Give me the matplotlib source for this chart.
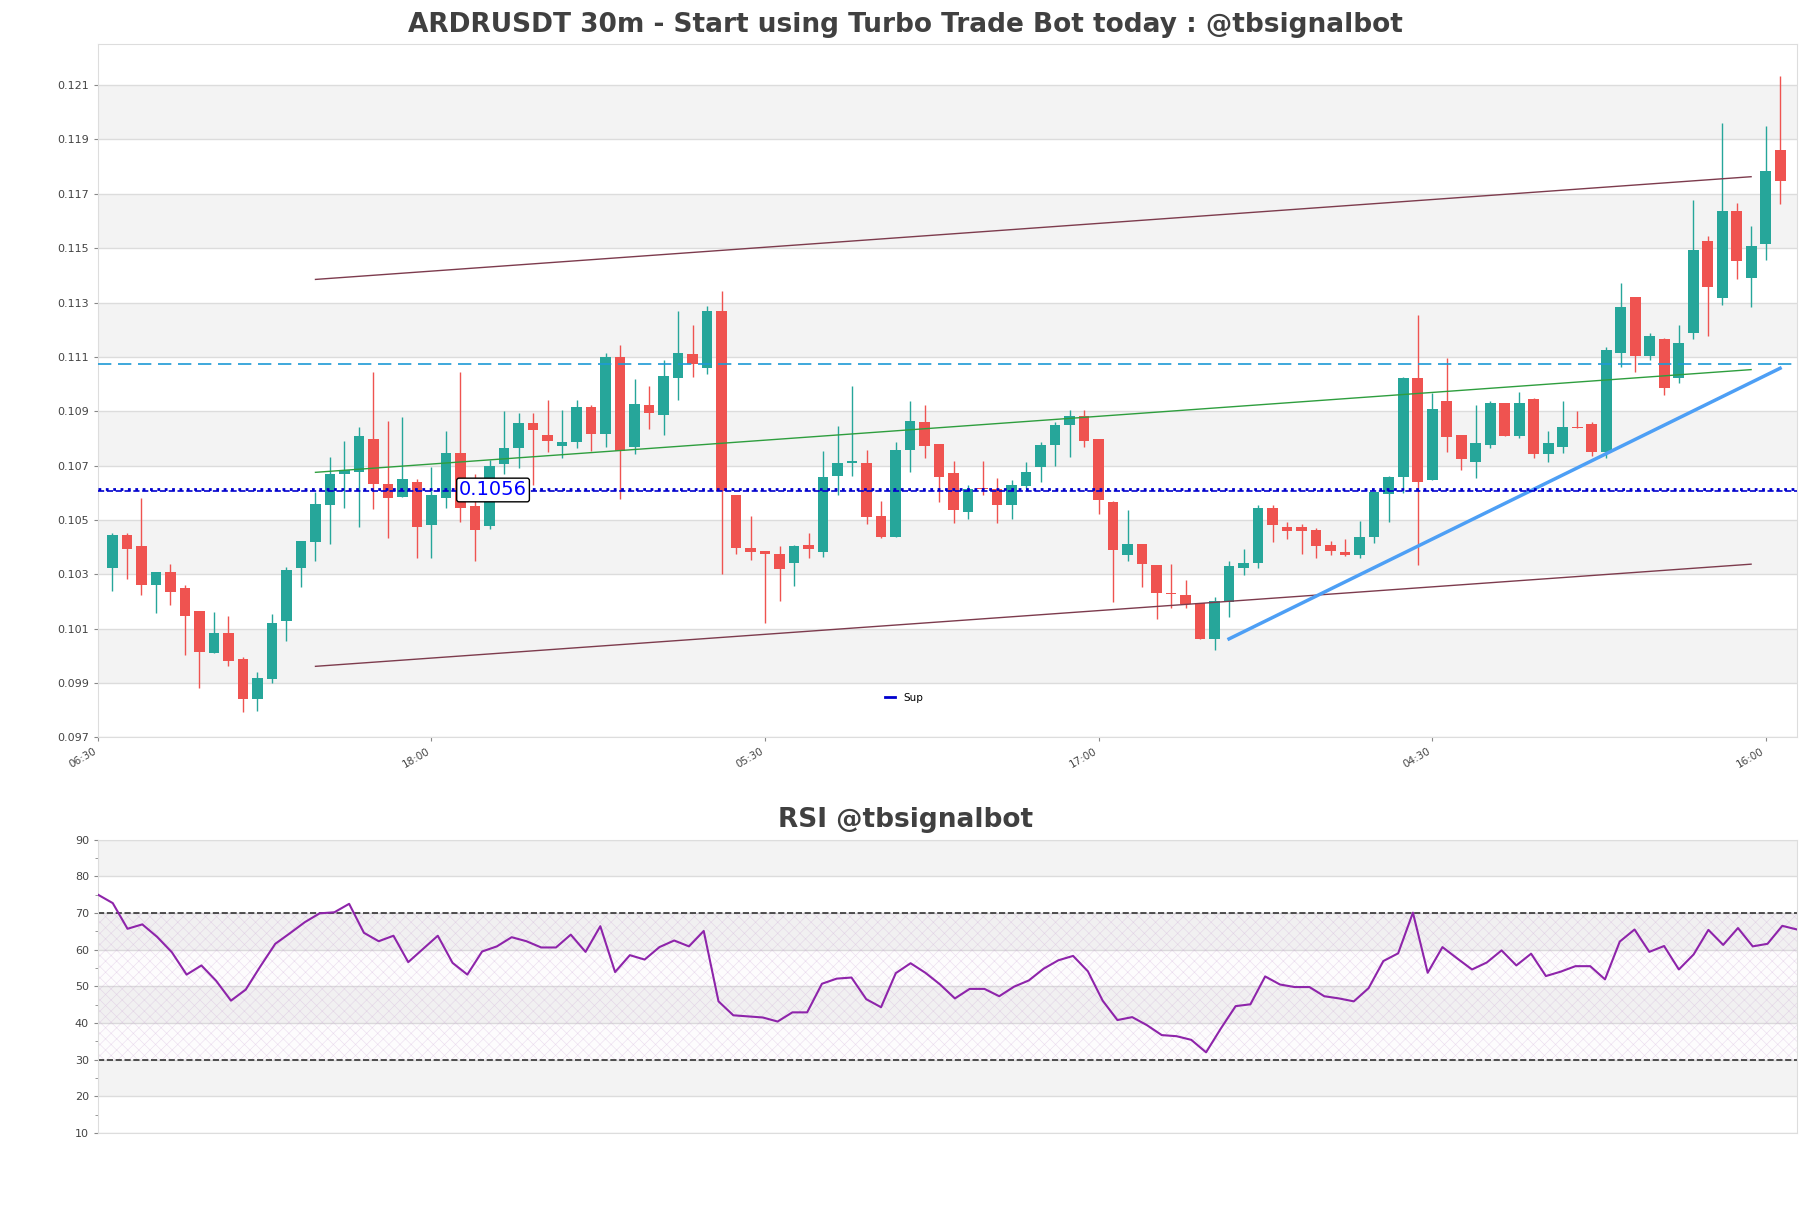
import matplotlib.pyplot as plt
import numpy as np
from matplotlib.lines import Line2D

plt.rcParams["hatch.linewidth"] = 0.4

# ---------------------------------------------------------------------------
# data (30m candles, price in USDT)
# ---------------------------------------------------------------------------
time_labels = ["06:30", "18:00", "05:30", "17:00", "04:30", "16:00"]
time_ticks = [-1, 22, 45, 68, 91, 114]

opens = [0.10322, 0.10445, 0.10404, 0.10262, 0.10307, 0.10250, 0.10165, 0.10009, 0.10083, 0.09988,
         0.09840, 0.09913, 0.10129, 0.10322, 0.10420, 0.10556, 0.10668, 0.10678, 0.10798, 0.10633,
         0.10586, 0.10639, 0.10482, 0.10582, 0.10745, 0.10552, 0.10478, 0.10705, 0.10765, 0.10857,
         0.10814, 0.10771, 0.10786, 0.10917, 0.10815, 0.11100, 0.10767, 0.10923, 0.10885, 0.11021,
         0.11112, 0.11058, 0.11267, 0.10593, 0.10398, 0.10386, 0.10376, 0.10340, 0.10408, 0.10383,
         0.10661, 0.10709, 0.10711, 0.10516, 0.10436, 0.10756, 0.10861, 0.10781, 0.10674, 0.10528,
         0.10618, 0.10612, 0.10556, 0.10624, 0.10694, 0.10775, 0.10848, 0.10882, 0.10796, 0.10564,
         0.10370, 0.10413, 0.10333, 0.10231, 0.10225, 0.10194, 0.10060, 0.10197, 0.10322, 0.10343,
         0.10545, 0.10475, 0.10475, 0.10464, 0.10406, 0.10382, 0.10370, 0.10438, 0.10595, 0.10657,
         0.11024, 0.10646, 0.10939, 0.10814, 0.10712, 0.10774, 0.10932, 0.10808, 0.10945, 0.10742,
         0.10767, 0.10843, 0.10854, 0.10749, 0.11113, 0.11322, 0.11103, 0.11166, 0.11024, 0.11188,
         0.11525, 0.11318, 0.11636, 0.11392, 0.11514, 0.11861]
highs = [0.10450, 0.10451, 0.10580, 0.10307, 0.10338, 0.10261, 0.10165, 0.10160, 0.10147, 0.09997,
         0.09939, 0.10154, 0.10326, 0.10423, 0.10604, 0.10733, 0.10791, 0.10840, 0.11046, 0.10864,
         0.10877, 0.10651, 0.10693, 0.10828, 0.11046, 0.10669, 0.10721, 0.10901, 0.10895, 0.10895,
         0.10943, 0.10905, 0.10943, 0.10923, 0.11116, 0.11144, 0.11020, 0.10993, 0.11087, 0.11267,
         0.11219, 0.11289, 0.11344, 0.10593, 0.10516, 0.10386, 0.10403, 0.10408, 0.10450, 0.10755,
         0.10845, 0.10994, 0.10759, 0.10569, 0.10788, 0.10936, 0.10921, 0.10781, 0.10715, 0.10630,
         0.10718, 0.10655, 0.10648, 0.10712, 0.10787, 0.10861, 0.10906, 0.10906, 0.10796, 0.10569,
         0.10536, 0.10413, 0.10333, 0.10336, 0.10277, 0.10194, 0.10217, 0.10350, 0.10394, 0.10553,
         0.10556, 0.10493, 0.10485, 0.10471, 0.10424, 0.10429, 0.10497, 0.10604, 0.10663, 0.11026,
         0.11255, 0.10966, 0.11097, 0.10814, 0.10921, 0.10938, 0.10932, 0.10971, 0.10949, 0.10828,
         0.10939, 0.10899, 0.10859, 0.11136, 0.11370, 0.11322, 0.11186, 0.11171, 0.11216, 0.11679,
         0.11545, 0.11959, 0.11668, 0.11580, 0.11949, 0.12133]
lows = [0.10240, 0.10282, 0.10225, 0.10159, 0.10185, 0.10001, 0.09883, 0.10009, 0.09964, 0.09794,
        0.09798, 0.09899, 0.10056, 0.10252, 0.10350, 0.10412, 0.10545, 0.10475, 0.10540, 0.10435,
        0.10586, 0.10361, 0.10361, 0.10545, 0.10494, 0.10350, 0.10466, 0.10670, 0.10690, 0.10630,
        0.10749, 0.10728, 0.10765, 0.10753, 0.10767, 0.10577, 0.10744, 0.10835, 0.10813, 0.10943,
        0.11026, 0.11037, 0.10301, 0.10375, 0.10354, 0.10121, 0.10201, 0.10256, 0.10359, 0.10363,
        0.10593, 0.10660, 0.10483, 0.10433, 0.10436, 0.10675, 0.10726, 0.10565, 0.10488, 0.10504,
        0.10590, 0.10490, 0.10503, 0.10618, 0.10639, 0.10698, 0.10731, 0.10767, 0.10522, 0.10197,
        0.10348, 0.10253, 0.10136, 0.10174, 0.10174, 0.10060, 0.10020, 0.10142, 0.10296, 0.10322,
        0.10418, 0.10428, 0.10376, 0.10360, 0.10371, 0.10366, 0.10361, 0.10416, 0.10491, 0.10600,
        0.10333, 0.10646, 0.10749, 0.10683, 0.10655, 0.10764, 0.10808, 0.10801, 0.10729, 0.10712,
        0.10747, 0.10837, 0.10736, 0.10729, 0.11063, 0.11045, 0.11089, 0.10959, 0.11004, 0.11166,
        0.11176, 0.11291, 0.11387, 0.11284, 0.11455, 0.11663]
closes = [0.10445, 0.10394, 0.10262, 0.10307, 0.10236, 0.10148, 0.10015, 0.10083, 0.09982, 0.09840,
          0.09917, 0.10120, 0.10316, 0.10423, 0.10559, 0.10669, 0.10683, 0.10809, 0.10631, 0.10582,
          0.10650, 0.10475, 0.10592, 0.10745, 0.10545, 0.10461, 0.10699, 0.10766, 0.10857, 0.10830,
          0.10790, 0.10787, 0.10917, 0.10815, 0.11100, 0.10753, 0.10928, 0.10893, 0.11030, 0.11116,
          0.11073, 0.11267, 0.10606, 0.10396, 0.10381, 0.10374, 0.10318, 0.10403, 0.10392, 0.10656,
          0.10711, 0.10715, 0.10512, 0.10436, 0.10758, 0.10864, 0.10771, 0.10657, 0.10536, 0.10614,
          0.10612, 0.10556, 0.10630, 0.10678, 0.10777, 0.10851, 0.10884, 0.10792, 0.10572, 0.10388,
          0.10413, 0.10338, 0.10231, 0.10226, 0.10191, 0.10060, 0.10201, 0.10329, 0.10342, 0.10542,
          0.10480, 0.10458, 0.10458, 0.10403, 0.10386, 0.10370, 0.10438, 0.10604, 0.10657, 0.11021,
          0.10638, 0.10907, 0.10804, 0.10725, 0.10784, 0.10929, 0.10808, 0.10929, 0.10742, 0.10782,
          0.10843, 0.10837, 0.10749, 0.11125, 0.11282, 0.11103, 0.11175, 0.10986, 0.11150, 0.11492,
          0.11357, 0.11636, 0.11453, 0.11507, 0.11783, 0.11747]

rsi = [75.0, 72.7, 65.7, 66.9, 63.5, 59.3, 53.2, 55.7, 51.5, 46.1,
       49.1, 55.5, 61.6, 64.5, 67.5, 69.9, 70.2, 72.5, 64.6, 62.3,
       63.8, 56.6, 60.2, 63.8, 56.4, 53.2, 59.5, 60.9, 63.4, 62.3,
       60.6, 60.6, 64.1, 59.4, 66.4, 53.9, 58.5, 57.3, 60.7, 62.5,
       60.9, 65.1, 45.9, 42.1, 41.8, 41.5, 40.4, 42.9, 42.9, 50.7,
       52.1, 52.4, 46.5, 44.3, 53.6, 56.3, 53.7, 50.5, 46.7, 49.3,
       49.3, 47.3, 49.9, 51.6, 54.8, 57.1, 58.3, 54.1, 46.1, 40.8,
       41.6, 39.4, 36.7, 36.4, 35.4, 32.0, 38.5, 44.6, 45.1, 52.7,
       50.5, 49.8, 49.8, 47.3, 46.7, 45.9, 49.5, 56.9, 59.0, 70.1,
       53.7, 60.7, 57.6, 54.6, 56.5, 59.8, 55.7, 58.9, 52.8, 54.0,
       55.5, 55.5, 51.9, 62.2, 65.5, 59.4, 61.0, 54.6, 58.7, 65.4,
       61.3, 65.9, 60.9, 61.6, 66.5, 65.5]

# lines drawn on the chart
sup_level = 0.10606
sup_label = "0.1056"
res_level = 0.11073
line_x = [14, 113]
channel_upper = [0.11385, 0.11763]
channel_lower = [0.09961, 0.10337]
mid_line = [0.10675, 0.11053]
trend_x = [77, 115]
trend_y = [0.10062, 0.11058]

# ---------------------------------------------------------------------------
# figure
# ---------------------------------------------------------------------------
UP = "#26a69a"
DOWN = "#ef5350"
BAND = "#f3f3f3"
GRID = "#dcdcdc"
TXT = "#404040"

fig = plt.figure(figsize=(18.11, 12.08), dpi=100)
ax = fig.add_axes([0.0541, 0.3897, 0.9382, 0.574])
ax2 = fig.add_axes([0.0541, 0.0621, 0.9382, 0.2428])

for a in (ax, ax2):
    a.set_facecolor("white")
    for sp in a.spines.values():
        sp.set_color("#dddddd")
    a.tick_params(colors="#888888", labelcolor="#444444", labelsize=8, length=3)

# --- price panel -----------------------------------------------------------
o = np.array(opens)
h = np.array(highs)
l = np.array(lows)
c = np.array(closes)
x = np.arange(len(o))
cols = np.where(c >= o, UP, DOWN)

yt = np.arange(0.097, 0.1215, 0.002)
for k in range(1, len(yt), 2):
    ax.axhspan(yt[k], yt[k] + 0.002, color=BAND, zorder=0, lw=0)
for v in yt:
    ax.axhline(v, color=GRID, lw=1, zorder=0.5)

ax.vlines(x, l, h, color=cols, lw=1, zorder=2)
body = np.maximum(np.abs(c - o), 0.00004)
ax.bar(x, body, bottom=np.minimum(o, c), width=0.75, color=cols, zorder=3)

ax.plot(line_x, channel_upper, color="#7d3b4d", lw=1, zorder=4)
ax.plot(line_x, channel_lower, color="#7d3b4d", lw=1, zorder=4)
ax.plot(line_x, mid_line, color="#2e9e3e", lw=1, zorder=4)
ax.plot(trend_x, trend_y, color="#4d9ff5", lw=2.5, zorder=4)

ax.axhline(res_level, color="#1e9ad6", lw=1.2, ls=(0, (8, 4)), zorder=4)
ax.axhline(sup_level + 0.00008, color="mediumblue", lw=2, ls=":", zorder=4)
ax.axhline(sup_level, color="mediumblue", lw=1.2, ls="--", zorder=4)
ax.text(23.9, sup_level + 0.00004, sup_label, color="blue", fontsize=14,
        va="center", ha="left", zorder=6,
        bbox=dict(boxstyle="round,pad=0.12", fc="white", ec="black", lw=1))

ax.set_ylim(0.097, 0.12252)
ax.set_xlim(-1, 116.17)
ax.set_yticks(yt)
ax.set_yticklabels([f"{v:.3f}" for v in yt])
ax.set_xticks(time_ticks)
ax.set_xticklabels(time_labels, rotation=30, ha="right", fontsize=7.5)
ax.legend(handles=[Line2D([], [], color="mediumblue", lw=2)], labels=["Sup"],
          loc="center", bbox_to_anchor=(0.4745, 0.057), frameon=False,
          fontsize=7.5, handlelength=1.0)

fig.text(0.5, 0.979, "ARDRUSDT 30m - Start using Turbo Trade Bot today : @tbsignalbot",
         ha="center", va="center", fontsize=19, fontweight="bold", color=TXT)

# --- RSI panel -------------------------------------------------------------
xr = np.arange(len(rsi))
for lo in (20, 40, 60, 80):
    ax2.axhspan(lo, lo + 10, color=BAND, zorder=0, lw=0)
for v in range(10, 91, 10):
    ax2.axhline(v, color=GRID, lw=1, zorder=0.5)
ax2.axhspan(30, 70, facecolor=(0.6, 0.3, 0.65, 0.015), edgecolor=(0.78, 0.62, 0.82, 0.35),
            hatch="xxx", lw=0, zorder=1)
ax2.axhline(70, color="#333333", lw=1.2, ls="--", zorder=2)
ax2.axhline(30, color="#333333", lw=1.2, ls="--", zorder=2)
ax2.plot(xr, rsi, color="#8e24aa", lw=1.5, zorder=3)

ax2.set_xlim(0, len(rsi) - 1)
ax2.set_ylim(10, 90)
ax2.set_yticks(range(10, 91, 10))
ax2.set_yticks(range(15, 90, 10), minor=True)
ax2.tick_params(which="minor", length=2, colors="#888888")
ax2.set_xticks([])

fig.text(0.5, 0.321, "RSI @tbsignalbot", ha="center", va="center",
         fontsize=19, fontweight="bold", color=TXT)

fig.savefig("out.png", dpi=100, facecolor="white")
